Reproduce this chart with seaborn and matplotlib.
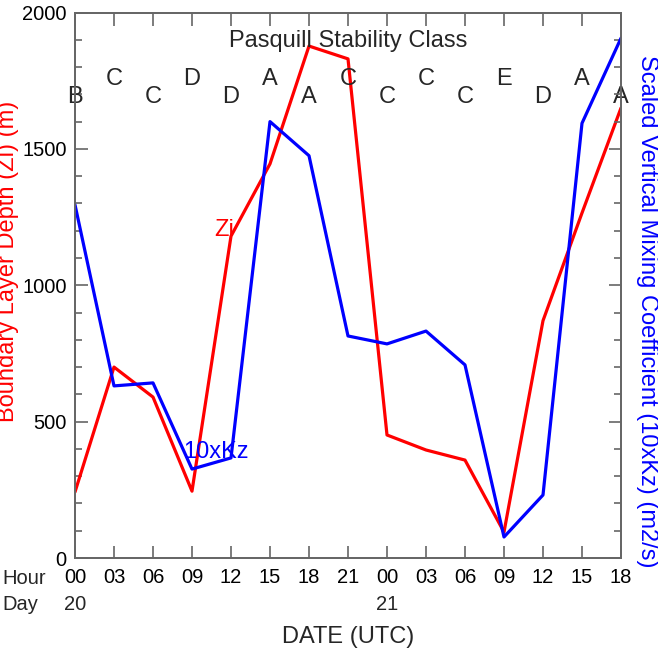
import matplotlib
matplotlib.use("Agg")
import matplotlib.pyplot as plt
import matplotlib.transforms as mtransforms
from matplotlib.ticker import MultipleLocator
import seaborn as sns
import pandas as pd
import numpy as np

# ---- data ----
hours = ["00", "03", "06", "09", "12", "15", "18", "21", "00", "03", "06", "09", "12", "15", "18"]
days = {0: "20", 8: "21"}
zi = [242, 700, 590, 245, 1180, 1445, 1877, 1830, 451, 396, 359, 95, 870, 1265, 1650]
kz10 = [1295, 631, 642, 326, 367, 1600, 1475, 814, 785, 832, 708, 77, 231, 1594, 1906]
pasquill = ["B", "C", "C", "D", "D", "A", "A", "C", "C", "C", "C", "E", "D", "A", "A"]

sns.set_theme(style="white")
plt.rcParams['font.family'] = ['Liberation Sans', 'DejaVu Sans']

idx = np.arange(len(hours))
df = pd.DataFrame({"t": idx, "zi": zi, "kz": kz10})

W, H = 658, 654
fig = plt.figure(figsize=(W / 100, H / 100), dpi=100)
ax = fig.add_axes([75/W, 1-558/H, (621-75)/W, (558-12.5)/H])
ax2 = ax.twinx()

sns.lineplot(data=df, x="t", y="zi", ax=ax, color="#ff0000", linewidth=2.3)
sns.lineplot(data=df, x="t", y="kz", ax=ax2, color="#0000ff", linewidth=2.3)

axc = "#666666"
for a in (ax, ax2):
    a.set_xlim(0, len(hours) - 1)
    a.set_ylim(0, 2000)
    a.set_facecolor("none")
    a.set_xlabel("")
    a.set_ylabel("")
    for s in a.spines.values():
        s.set_color(axc)
        s.set_linewidth(1.3)

fs_tick = 14.5
fs = 17
ax.yaxis.set_major_locator(MultipleLocator(500))
ax.yaxis.set_minor_locator(MultipleLocator(100))
ax2.yaxis.set_major_locator(MultipleLocator(500))
ax2.yaxis.set_minor_locator(MultipleLocator(100))
ax.set_xticks(idx)
ax.set_xticklabels(hours)
ax.tick_params(axis="both", which="major", direction="in", length=9, width=1.2,
               color=axc, labelsize=fs_tick, labelcolor="black", top=True, bottom=True, left=True)
ax.tick_params(axis="y", which="minor", direction="in", length=5, width=1.2, color=axc, left=True)
ax.tick_params(axis="y", which="major", pad=6)
ax.tick_params(axis="x", which="major", pad=7)
ax2.tick_params(axis="y", which="both", direction="in", color=axc, width=1.2,
                labelright=False, right=True)
ax2.tick_params(axis="y", which="major", length=9)
ax2.tick_params(axis="y", which="minor", length=5)

# axis titles
fig.text(8/W, 1-261/H, "Boundary Layer Depth (Zi) (m)", rotation=90, ha="center", va="center",
         fontsize=fs, color="#ff0000")
fig.text(647/W, 1-311/H, "Scaled Vertical Mixing Coefficient (10xKz) (m2/s)", rotation=270,
         ha="center", va="center", fontsize=fs, color="#0000ff")

# Day labels
trans = mtransforms.blended_transform_factory(ax.transData, fig.transFigure)
for i, d in days.items():
    ax.text(i, 1-605/H, d, transform=trans, ha="center", va="center", fontsize=fs_tick)
fig.text(2/W, 1-579/H, "Hour", ha="left", va="center", fontsize=fs_tick)
fig.text(2/W, 1-605/H, "Day", ha="left", va="center", fontsize=fs_tick)
fig.text(348/W, 1-637/H, "DATE (UTC)", ha="center", va="center", fontsize=fs)

# Pasquill stability classes
ax.text(7, 1894, "Pasquill Stability Class", ha="center", va="center", fontsize=fs)
for i, c in enumerate(pasquill):
    yv = 1690 if i % 2 == 0 else 1758
    ax.text(i, yv, c, ha="center", va="center", fontsize=fs)

# curve labels
ax.text(4.08, 1203, "Zi", ha="right", va="center", fontsize=fs, color="#ff0000")
ax.text(3.62, 389, "10xKz", ha="center", va="center", fontsize=fs, color="#0000ff")

fig.savefig("out.png", dpi=100)
